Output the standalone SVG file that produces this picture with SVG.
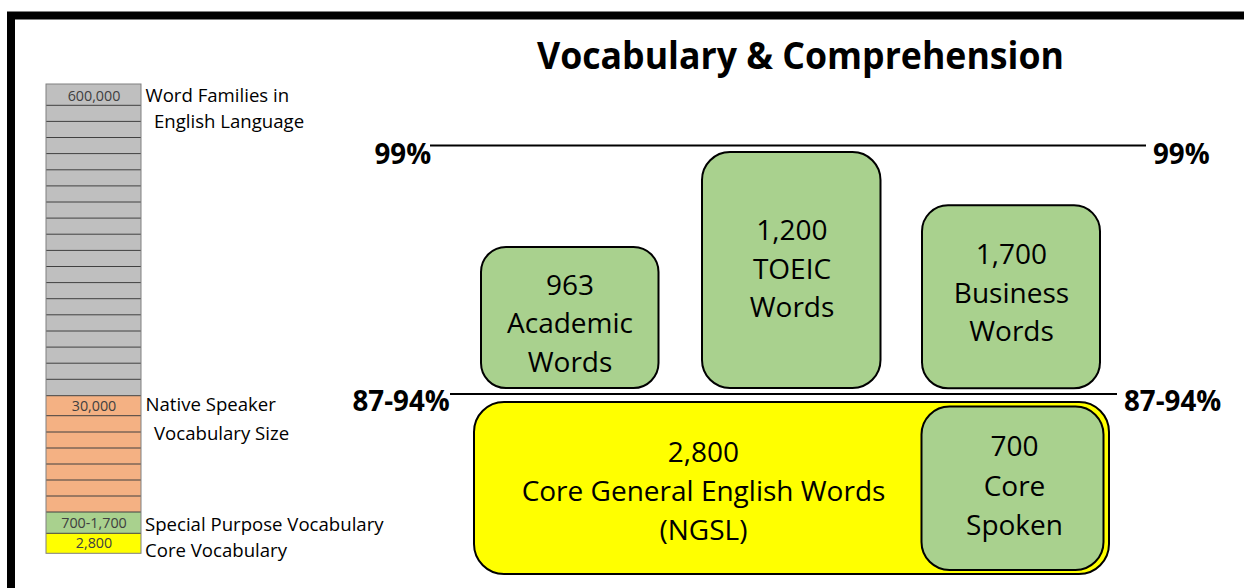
<svg xmlns="http://www.w3.org/2000/svg" width="1244" height="588" viewBox="0 0 1244 588">
<style>
text{font-family:"Open Sans","Liberation Sans",sans-serif;fill:#000}
.lbl{font-size:18.6px}
.cell{font-size:14.3px;fill:#404040;text-anchor:middle}
.pct{font-size:27.7px;font-weight:bold}
.box{fill:#A9D18E;stroke:#000;stroke-width:2}
.bt{font-size:28px;text-anchor:middle}
.sep{stroke:#404040;stroke-width:1}
.thr{stroke:#000;stroke-width:2;fill:none}
</style>
<rect width="1244" height="588" fill="#fff"/>
<path d="M11,588 V15.5 H1244" fill="none" stroke="#000" stroke-width="8"/>
<text x="800.5" y="68.5" font-size="37" font-weight="bold" text-anchor="middle" textLength="527" lengthAdjust="spacingAndGlyphs">Vocabulary &amp; Comprehension</text>

<g id="scale-bar">
<rect x="46" y="84" width="95" height="311.7" fill="#BFBFBF"/>
<rect x="46" y="395.7" width="95" height="116.3" fill="#F4B183"/>
<rect x="46" y="512" width="95" height="21.3" fill="#A9D18E"/>
<rect x="46" y="533.3" width="95" height="20" fill="#FFFF00"/>
<g class="sep">
<line x1="46" x2="141" y1="105.3" y2="105.3"/><line x1="46" x2="141" y1="121.4" y2="121.4"/><line x1="46" x2="141" y1="137.5" y2="137.5"/><line x1="46" x2="141" y1="153.6" y2="153.6"/><line x1="46" x2="141" y1="169.8" y2="169.8"/><line x1="46" x2="141" y1="185.9" y2="185.9"/><line x1="46" x2="141" y1="202" y2="202"/><line x1="46" x2="141" y1="218.1" y2="218.1"/><line x1="46" x2="141" y1="234.2" y2="234.2"/><line x1="46" x2="141" y1="250.4" y2="250.4"/><line x1="46" x2="141" y1="266.5" y2="266.5"/><line x1="46" x2="141" y1="282.6" y2="282.6"/><line x1="46" x2="141" y1="298.7" y2="298.7"/><line x1="46" x2="141" y1="314.8" y2="314.8"/><line x1="46" x2="141" y1="331" y2="331"/><line x1="46" x2="141" y1="347.1" y2="347.1"/><line x1="46" x2="141" y1="363.2" y2="363.2"/><line x1="46" x2="141" y1="379.3" y2="379.3"/><line x1="46" x2="141" y1="395.7" y2="395.7"/>
<line x1="46" x2="141" y1="415.7" y2="415.7"/><line x1="46" x2="141" y1="432" y2="432"/><line x1="46" x2="141" y1="448" y2="448"/><line x1="46" x2="141" y1="464" y2="464"/><line x1="46" x2="141" y1="480" y2="480"/><line x1="46" x2="141" y1="496" y2="496"/><line x1="46" x2="141" y1="512" y2="512"/><line x1="46" x2="141" y1="533.3" y2="533.3"/>
</g>
<rect x="46" y="84" width="95" height="469.3" fill="none" stroke="#808080" stroke-width="1"/>
<text class="cell" x="94" y="100.7">600,000</text>
<text class="cell" x="94" y="410.7">30,000</text>
<text class="cell" x="94" y="527.7">700-1,700</text>
<text class="cell" x="94" y="548.3">2,800</text>
<text class="lbl" x="145.5" y="101.7">Word Families in</text>
<text class="lbl" x="154" y="127.5">English Language</text>
<text class="lbl" x="145.5" y="411">Native Speaker</text>
<text class="lbl" x="154" y="440">Vocabulary Size</text>
<text class="lbl" x="145" y="531">Special Purpose Vocabulary</text>
<text class="lbl" x="145" y="556.7">Core Vocabulary</text>
</g>

<g id="connectors">
<line class="thr" x1="430" y1="145.5" x2="1146" y2="145.5"/>
<line class="thr" x1="450" y1="394" x2="1117" y2="394"/>
</g>
<g id="threshold-labels">
<text class="pct" x="374.5" y="163.5">99%</text>
<text class="pct" x="1153" y="163.5">99%</text>
<text class="pct" x="352.5" y="410.7">87-94%</text>
<text class="pct" x="1124" y="410.7">87-94%</text>
</g>

<g id="academic">
<rect class="box" x="481" y="247" width="177.5" height="141" rx="25"/>
<text class="bt" x="570" y="295">963</text>
<text class="bt" x="570" y="333.3">Academic</text>
<text class="bt" x="570" y="371.7">Words</text>
</g>
<g id="toeic">
<rect class="box" x="702" y="152" width="178.5" height="236" rx="28"/>
<text class="bt" x="792" y="240">1,200</text>
<text class="bt" x="792" y="279.3">TOEIC</text>
<text class="bt" x="792" y="317.3">Words</text>
</g>
<g id="business">
<rect class="box" x="922" y="205.3" width="178" height="183" rx="26"/>
<text class="bt" x="1011.5" y="264">1,700</text>
<text class="bt" x="1011.5" y="302.7">Business</text>
<text class="bt" x="1011.5" y="341">Words</text>
</g>
<g id="core">
<rect x="474" y="402" width="635" height="172" rx="30" fill="#FFFF00" stroke="#000" stroke-width="2"/>
<text class="bt" x="703.5" y="461.7">2,800</text>
<text class="bt" x="703.5" y="500.7">Core General English Words</text>
<text class="bt" x="703.5" y="539.5">(NGSL)</text>
</g>
<g id="spoken">
<rect class="box" x="921.5" y="406.5" width="182" height="163.5" rx="28"/>
<text class="bt" x="1014.5" y="456">700</text>
<text class="bt" x="1014.5" y="495.5">Core</text>
<text class="bt" x="1014.5" y="535">Spoken</text>
</g>
</svg>
